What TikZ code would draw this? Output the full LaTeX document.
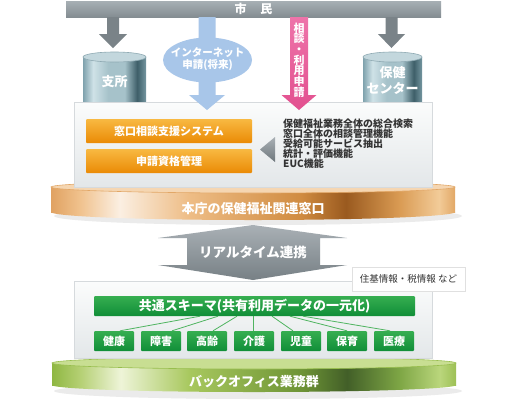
\documentclass[tikz,border=0pt]{standalone}
\usepackage{fontspec}
\setmainfont{Noto Sans CJK JP}
\usetikzlibrary{shapes.geometric}

\definecolor{barT}{HTML}{A7AFB4}
\definecolor{barB}{HTML}{848D92}
\definecolor{arrG}{HTML}{7A8388}
\definecolor{arrGT}{HTML}{8E979C}
\definecolor{inetC}{HTML}{A8C6E9}
\definecolor{pinkT}{HTML}{EE74AA}
\definecolor{pinkB}{HTML}{E2508F}
\definecolor{panelT}{HTML}{FBFCFC}
\definecolor{panelB}{HTML}{E3E7E9}
\definecolor{panelL}{HTML}{D6DADD}
\definecolor{orT}{HTML}{F8B942}
\definecolor{orB}{HTML}{EA8A05}
\definecolor{grT}{HTML}{36AE50}
\definecolor{grB}{HTML}{108E38}
\definecolor{grL}{HTML}{4FB460}
\definecolor{txtD}{HTML}{333333}
\definecolor{triT}{HTML}{A9B0B5}
\definecolor{triB}{HTML}{6E777C}
\definecolor{rtT}{HTML}{A9B0B5}
\definecolor{rtB}{HTML}{778085}
% cylinder
\definecolor{cy1}{HTML}{7FA2AD}
\definecolor{cy2}{HTML}{CFE2E7}
\definecolor{cy3}{HTML}{A6C2CA}
\definecolor{cy4}{HTML}{3E5F69}
\definecolor{cy5}{HTML}{7496A0}
\definecolor{cyTop}{HTML}{C3D7DD}
\definecolor{cyRim}{HTML}{8FAAB3}
% orange disk
\definecolor{o1}{HTML}{E0A262}
\definecolor{o2}{HTML}{F0C18C}
\definecolor{o3}{HTML}{FBEFE2}
\definecolor{o4}{HTML}{EEBD86}
\definecolor{o5}{HTML}{D08B40}
\definecolor{o6}{HTML}{9A5A1F}
\definecolor{o7}{HTML}{D99A52}
\definecolor{o8}{HTML}{F2CB98}
\definecolor{o9}{HTML}{E2A866}
\definecolor{oTop}{HTML}{F5D6B2}
\definecolor{oRim}{HTML}{E2A767}
% green disk
\definecolor{g1}{HTML}{8FB742}
\definecolor{g2}{HTML}{B5D074}
\definecolor{g3}{HTML}{EEF4D8}
\definecolor{g4}{HTML}{A8C85E}
\definecolor{g5}{HTML}{6D9335}
\definecolor{g6}{HTML}{425F28}
\definecolor{g7}{HTML}{7EA645}
\definecolor{g8}{HTML}{BAD67C}
\definecolor{g9}{HTML}{9DC055}
\definecolor{gTop}{HTML}{C8DE92}
\definecolor{gRim}{HTML}{98BE4E}

\pgfdeclarehorizontalshading{cylsh}{100bp}{color(0bp)=(cy1); color(25bp)=(cy1); color(33bp)=(cy2); color(45bp)=(cy3); color(58bp)=(cy3); color(68bp)=(cy4); color(75bp)=(cy5); color(100bp)=(cy5)}
\pgfdeclarehorizontalshading{diskO}{100bp}{color(0bp)=(o1); color(25bp)=(o1); color(28.5bp)=(o2); color(33.5bp)=(o3); color(42bp)=(o4); color(56bp)=(o5); color(61.5bp)=(o6); color(68bp)=(o7); color(73bp)=(o8); color(75bp)=(o9); color(100bp)=(o9)}
\pgfdeclarehorizontalshading{diskG}{100bp}{color(0bp)=(g1); color(25bp)=(g1); color(28.5bp)=(g2); color(33.5bp)=(g3); color(42bp)=(g4); color(56bp)=(g5); color(61.5bp)=(g6); color(68bp)=(g7); color(73bp)=(g8); color(75bp)=(g9); color(100bp)=(g9)}

\newcommand\blkdown[7]{%
  \fill[#1] (#2-#6,#3) -- (#2+#6,#3) -- (#2+#6,#4) -- (#2+#7,#4) -- (#2,#5) -- (#2-#7,#4) -- (#2-#6,#4) -- cycle;}

\tikzset{
  wtext/.style={text=white, inner sep=0pt},
  panelbox/.style={draw=panelL, line width=0.6pt, top color=panelT, bottom color=panelB, minimum width=358pt, inner sep=0pt},
  orbox/.style={top color=orT, bottom color=orB, minimum width=166pt, minimum height=24pt, rounded corners=1pt, text=white, font=\bfseries\fontsize{11}{13}\selectfont, inner sep=0pt},
  grbox/.style={top color=grT, bottom color=grB, rounded corners=1pt, text=white, font=\bfseries\fontsize{11}{13}\selectfont, minimum width=40pt, minimum height=20pt, inner sep=0pt},
  link/.style={draw=grL, line width=0.8pt},
}

\begin{document}
\begin{tikzpicture}[x=1pt,y=-1pt]
\useasboundingbox (0,0) rectangle (516,400);
\fill[white] (0,0) rectangle (516,400);

% ---------- top bar
\node[top color=barT, bottom color=barB, minimum width=375pt, minimum height=16pt, inner sep=0pt,
  text=white, font=\bfseries\fontsize{12}{14}\selectfont] (bar) at (253.5,9) {市\hspace{14pt}民};

% ---------- orange disk
\fill[black!8] (258,216) ellipse [x radius=204, y radius=9];
\shade[shading=diskO] (51,187) rectangle (455,212);
\shade[shading=diskO] (253,212) ellipse [x radius=202, y radius=8];
\fill[oTop, draw=oRim, line width=0.6pt] (253,187) ellipse [x radius=202, y radius=6];

% ---------- cylinders
\shade[shading=cylsh] (83,57) rectangle (146,110);
\fill[cyTop, draw=cyRim, line width=0.6pt] (114.5,57) ellipse [x radius=31.5, y radius=5];
\shade[shading=cylsh] (363,57) rectangle (422,110);
\fill[cyTop, draw=cyRim, line width=0.6pt] (392.5,57) ellipse [x radius=29.5, y radius=5];
\node[wtext, font=\bfseries\fontsize{13}{15}\selectfont] (cylL) at (114.5,82) {支所};
\node[wtext, font=\bfseries\fontsize{13}{16}\selectfont, align=center] (cylR) at (392.5,80) {保健\\センター};

% ---------- panel 1
\node[panelbox, minimum height=85pt] (p1) at (253,144.5) {};
\node[orbox] (sys1) at (169,131) {窓口相談支援システム};
\node[orbox] (sys2) at (169,161) {申請資格管理};
\shade[top color=triT, bottom color=triB] (275,137) -- (275,162) -- (260,149.5) -- cycle;
\coordinate (tri) at (268,149.5);
\node[anchor=west, align=left, text=txtD, inner sep=0pt,
  font=\bfseries\fontsize{10}{10}\selectfont] (list) at (283,144)
  {保健福祉業務全体の総合検索\\窓口全体の相談管理機能\\受給可能サービス抽出\\統計・評価機能\\EUC機能};
\node[wtext, font=\bfseries\fontsize{13}{15}\selectfont] (d1) at (253,209) {本庁の保健福祉関連窓口};

% ---------- arrows from bar
\blkdown{arrG}{113}{17}{34}{48}{6}{14}
\blkdown{arrG}{391.5}{17}{34}{48}{6}{13.5}
\blkdown{inetC}{207}{17}{95}{110}{8.5}{18}
\shade[top color=pinkT, bottom color=pinkB] (290,17) -- (308,17) -- (308,95) -- (316.5,95) -- (299,110) -- (281.5,95) -- (290,95) -- cycle;
\fill[inetC] (207.5,60) ellipse [x radius=44.5, y radius=22.5];
\node[wtext, align=center, font=\bfseries\fontsize{10.5}{12}\selectfont] (inet) at (207.5,59) {インターネット\\申請(将来)};
\node[wtext, align=center, font=\bfseries\fontsize{11}{10.7}\selectfont] (pink) at (299,60) {相\\談\\・\\利\\用\\申\\請};

% ---------- realtime double arrow
\shade[top color=rtT, bottom color=rtB] (253,225) -- (347,238) -- (320,238) -- (320,265) -- (347,265) -- (253,280) -- (158,265) -- (187,265) -- (187,238) -- (158,238) -- cycle;
\node[wtext, font=\bfseries\fontsize{13.5}{15}\selectfont] (rt) at (253,252) {リアルタイム連携};

% ---------- green disk
\fill[black!8] (258,391) ellipse [x radius=204, y radius=8];
\shade[shading=diskG] (52,363) rectangle (456,385);
\shade[shading=diskG] (254,385) ellipse [x radius=202, y radius=7];
\fill[gTop, draw=gRim, line width=0.6pt] (254,363) ellipse [x radius=202, y radius=6];
\node[wtext, font=\bfseries\fontsize{13}{15}\selectfont] (d2) at (254,382) {バックオフィス業務群};

% ---------- panel 2
\node[panelbox, minimum height=77pt] (p2) at (253,319.5) {};
\node[fill=white, draw=black!12, line width=0.6pt, minimum width=113pt, minimum height=24pt, inner sep=0pt,
  text=txtD, font=\fontsize{9.5}{11}\selectfont] (note) at (408.5,279) {住基情報・税情報 など};

\node[top color=grT, bottom color=grB, rounded corners=1pt, minimum width=321pt, minimum height=20pt, inner sep=0pt,
  text=white, font=\bfseries\fontsize{13}{15}\selectfont] (schema) at (254.5,306) {共通スキーマ(共有利用データの一元化)};

\node[grbox] (b1) at (114,341) {健康};
\node[grbox] (b2) at (161,341) {障害};
\node[grbox] (b3) at (207,341) {高齢};
\node[grbox] (b4) at (254,341) {介護};
\node[grbox] (b5) at (301,341) {児童};
\node[grbox] (b6) at (347,341) {保育};
\node[grbox] (b7) at (394,341) {医療};

\draw[link] (schema.south -| 200,0) -- (b1.north -| 120,0);
\draw[link] (schema.south -| 218,0) -- (b2.north -| 172,0);
\draw[link] (schema.south -| 237,0) -- (b3.north -| 213,0);
\draw[link] (schema.south -| 253,0) -- (b4.north -| 253,0);
\draw[link] (schema.south -| 272,0) -- (b5.north -| 293,0);
\draw[link] (schema.south -| 290,0) -- (b6.north -| 347,0);
\draw[link] (schema.south -| 303,0) -- (b7.north -| 390,0);
\end{tikzpicture}
\end{document}
